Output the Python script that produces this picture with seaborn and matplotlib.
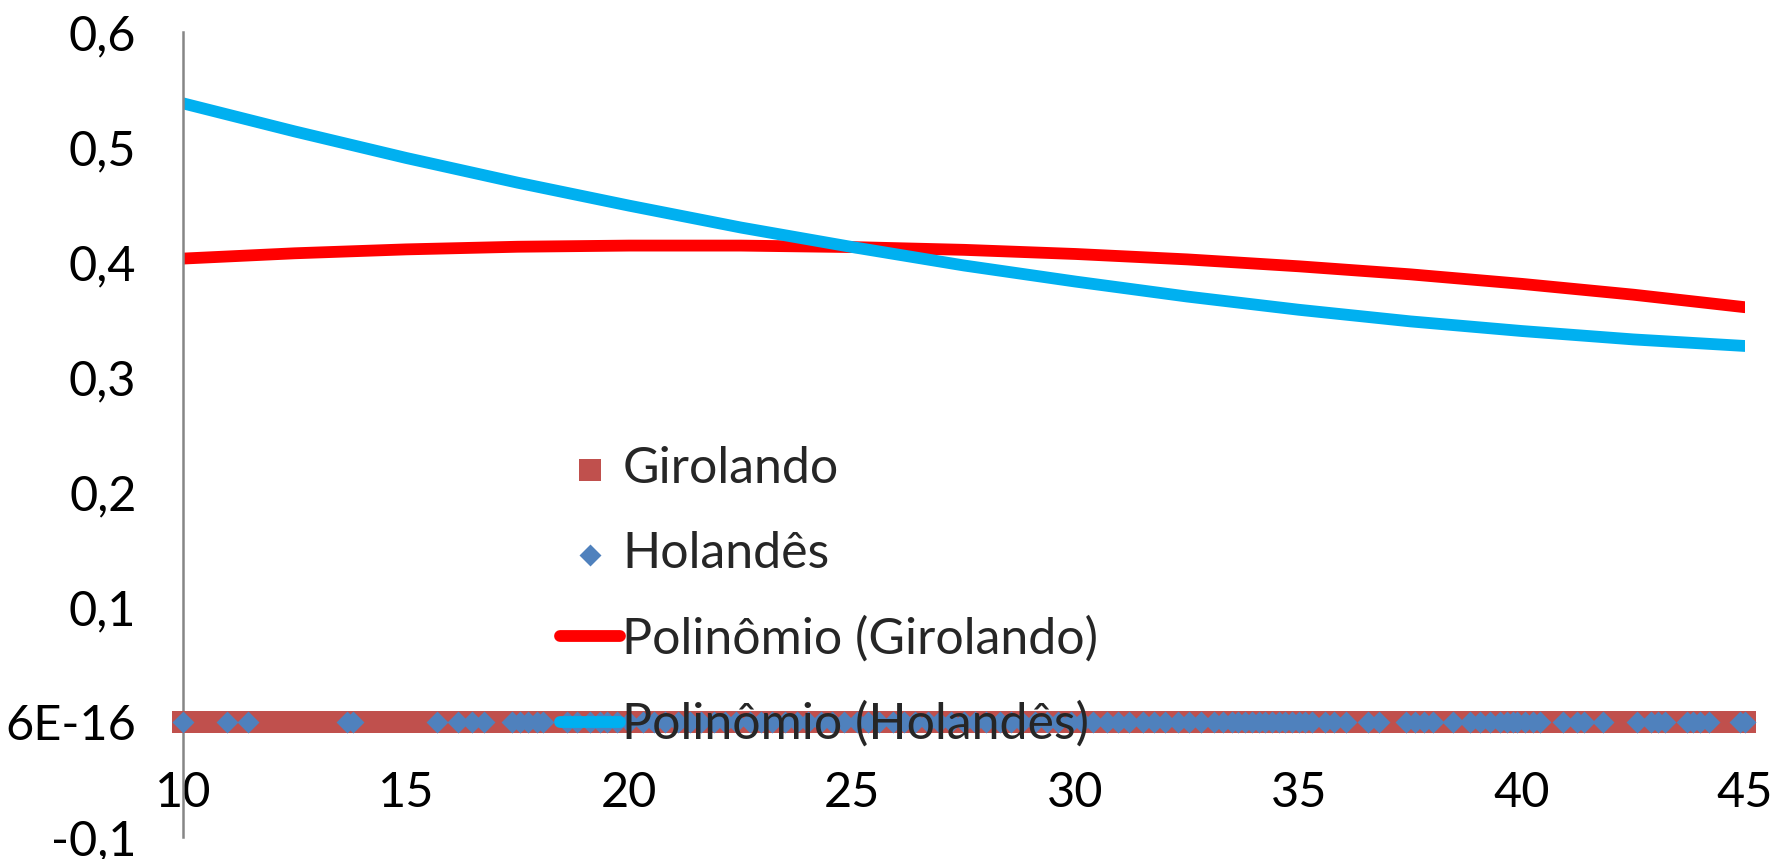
import numpy as np
import pandas as pd
import matplotlib
matplotlib.use("Agg")
import matplotlib.pyplot as plt
import seaborn as sns

# scatter data (all values sit on y = 0)
giro_x = [10.0, 10.3, 10.7, 11.0, 11.4, 11.7, 12.1, 12.4, 12.8, 13.1, 13.5, 13.8,
          14.2, 14.5, 14.9, 15.2, 15.6, 15.9, 16.3, 16.6, 17.0, 17.3, 17.7, 18.0,
          18.4, 18.7, 19.1, 19.4, 19.8, 20.1, 20.5, 20.8, 21.2, 21.5, 21.9, 22.2,
          22.6, 22.9, 23.3, 23.6, 24.0, 24.3, 24.7, 25.0, 25.4, 25.7, 26.1, 26.4,
          26.8, 27.1, 27.5, 27.8, 28.2, 28.5, 28.9, 29.2, 29.6, 29.9, 30.3, 30.6,
          31.0, 31.3, 31.7, 32.0, 32.4, 32.7, 33.1, 33.4, 33.8, 34.1, 34.5, 34.8,
          35.2, 35.5, 35.9, 36.2, 36.6, 36.9, 37.3, 37.6, 38.0, 38.3, 38.7, 39.0,
          39.4, 39.7, 40.1, 40.4, 40.8, 41.1, 41.5, 41.8, 42.2, 42.5, 42.9, 43.2,
          43.6, 43.9, 44.3, 44.6, 45.0]
hol_x = [10.0, 10.99, 11.46, 13.67, 13.8, 15.7, 16.16, 16.48, 16.75, 17.37, 17.55,
         17.73, 17.93, 18.07, 18.6, 18.83, 19.12, 19.34, 19.5, 19.72, 20.0, 20.3,
         20.55, 20.8, 21.1, 21.35, 21.6, 21.9, 22.15, 22.4, 22.7, 22.95, 23.2, 23.5,
         23.75, 24.0, 24.3, 24.55, 24.8, 25.1, 25.35, 25.6, 25.9, 26.15, 26.4, 26.7,
         26.95, 27.2, 27.5, 27.75, 28.0, 28.3, 28.55, 28.8, 29.1, 29.35, 29.6, 29.9,
         30.15, 30.4, 30.7, 30.95, 31.2, 31.5, 31.75, 32.0, 32.3, 32.55, 32.8, 33.1,
         33.3, 33.5, 33.65, 33.8, 33.95, 34.1, 34.25, 34.4, 34.55, 34.7, 34.85, 35.0,
         35.15, 35.3, 35.6, 35.8, 36.05, 36.55, 36.8, 37.4, 37.6, 37.8, 38.0, 38.45,
         38.84, 39.06, 39.28, 39.5, 39.67, 39.8, 39.9, 40.07, 40.25, 40.4, 40.92,
         41.23, 41.4, 41.82, 42.58, 42.9, 43.05, 43.2, 43.7, 43.84, 44.0, 44.2,
         44.88, 45.0]

# trendlines
trend_x = [10, 12.5, 15, 17.5, 20, 22.5, 25, 27.5, 30, 32.5, 35, 37.5, 40, 42.5, 45]
trend_giro = [0.403, 0.4076, 0.411, 0.4133, 0.4143, 0.4143, 0.413, 0.4106, 0.407,
              0.4023, 0.3963, 0.3893, 0.381, 0.3716, 0.3607]
trend_hol = [0.538, 0.5136, 0.4905, 0.469, 0.449, 0.430, 0.413, 0.397, 0.383,
             0.370, 0.3585, 0.3484, 0.340, 0.3327, 0.327]

x_ticks = [10, 15, 20, 25, 30, 35, 40, 45]
y_ticks = [-0.1, 0, 0.1, 0.2, 0.3, 0.4, 0.5, 0.6]
y_labels = ["-0,1", "6E-16", "0,1", "0,2", "0,3", "0,4", "0,5", "0,6"]

df_giro = pd.DataFrame({"x": giro_x, "y": [0.0] * len(giro_x)})
df_hol = pd.DataFrame({"x": hol_x, "y": [0.0] * len(hol_x)})
df_trend = pd.DataFrame({"x": trend_x, "giro": trend_giro, "hol": trend_hol})

sns.set_style("white")
plt.rcParams["font.family"] = ["Lato", "DejaVu Sans"]

fig = plt.figure(figsize=(17.89, 8.59), dpi=100)
ax = fig.add_axes([0.1023, 0.0256, 0.8731, 0.9371])

sns.scatterplot(data=df_giro, x="x", y="y", marker="s", s=240, color="#C0504D",
                linewidth=0, clip_on=False, zorder=3, label="Girolando", ax=ax)
sns.scatterplot(data=df_hol, x="x", y="y", marker="D", s=125, color="#4F81BD",
                linewidth=0, clip_on=False, zorder=4, label="Holandês", ax=ax)
sns.lineplot(data=df_trend, x="x", y="giro", color="#FF0000", linewidth=8.5,
             solid_capstyle="round", label="Polinômio (Girolando)", ax=ax)
sns.lineplot(data=df_trend, x="x", y="hol", color="#00B0F0", linewidth=8.5,
             solid_capstyle="round", label="Polinômio (Holandês)", ax=ax)

ax.set_xlim(10, 45)
ax.set_ylim(-0.1, 0.6)
ax.set_xticks(x_ticks)
ax.set_xticklabels([str(v) for v in x_ticks])
ax.set_yticks(y_ticks)
ax.set_yticklabels(y_labels)
ax.set_xlabel("")
ax.set_ylabel("")

for s in ["top", "right"]:
    ax.spines[s].set_visible(False)
ax.spines["bottom"].set_position(("data", 0))
for s in ["left", "bottom"]:
    ax.spines[s].set_color("#868686")
    ax.spines[s].set_linewidth(1.8)

ax.tick_params(axis="both", direction="out", length=11.5, width=1.8,
               color="#868686", labelsize=35, labelcolor="black")
ax.tick_params(axis="x", pad=24)
ax.tick_params(axis="y", pad=22)

ax.legend(loc="upper left", bbox_to_anchor=(0.313, 0.481),
          bbox_transform=fig.transFigure, frameon=False, fontsize=36,
          handlelength=1.2, handletextpad=0.05, labelspacing=0.78,
          borderpad=0, borderaxespad=0)

fig.savefig("out.png", dpi=100)
